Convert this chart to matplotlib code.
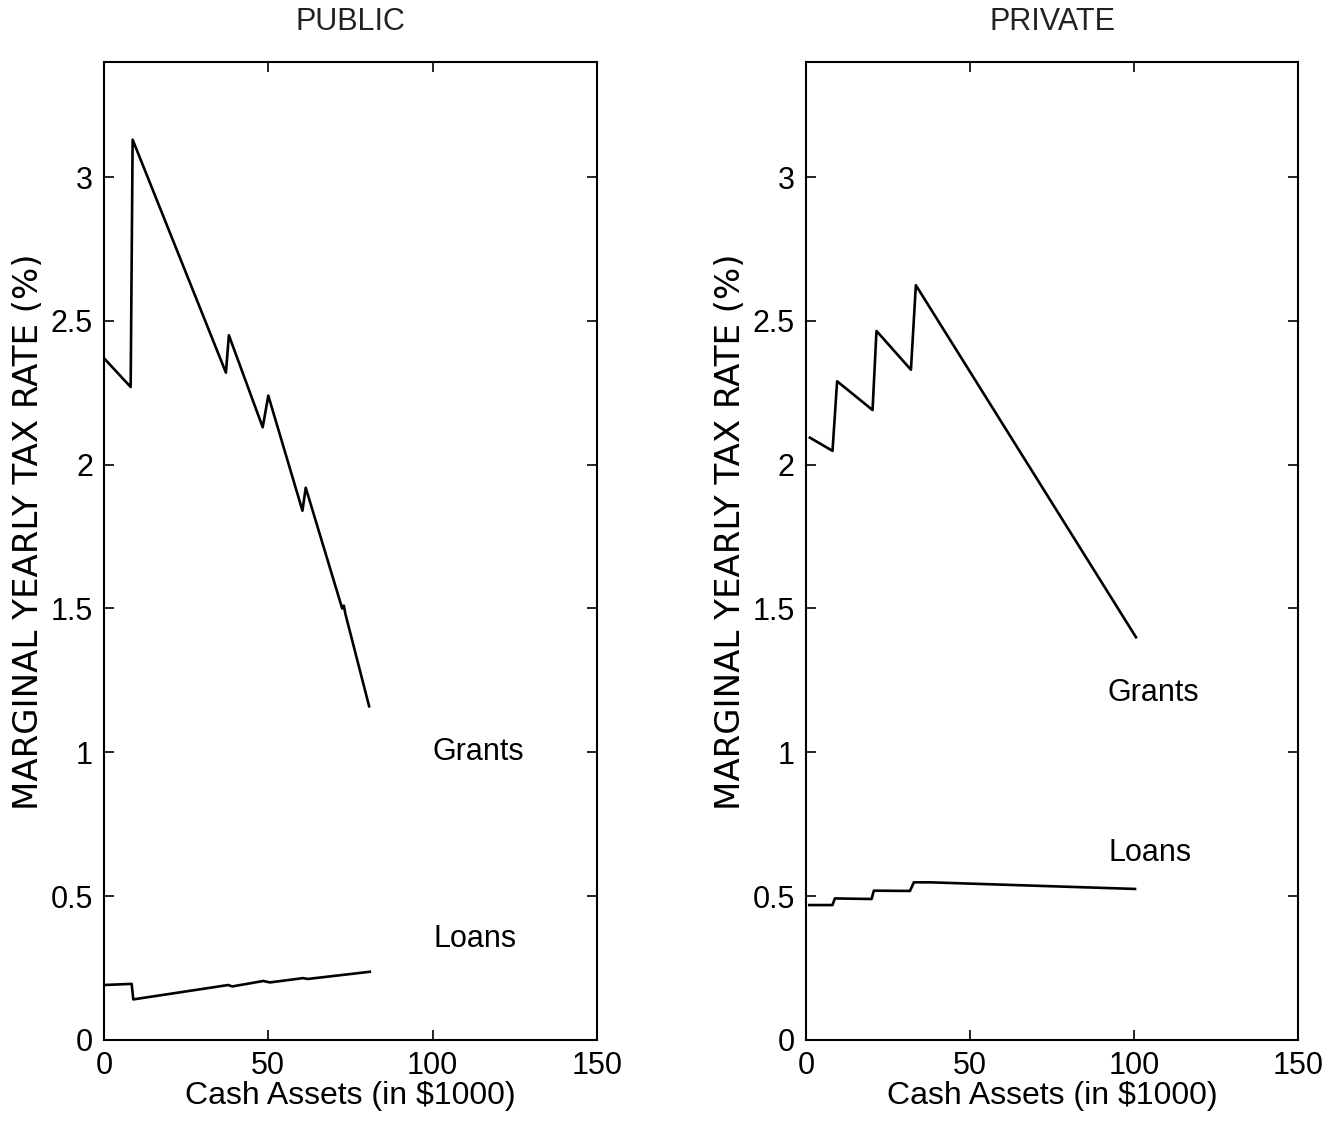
import numpy as np
import matplotlib
matplotlib.use("Agg")
import matplotlib.pyplot as plt

plt.rcParams['font.family'] = ['Liberation Sans', 'DejaVu Sans']

# PUBLIC panel
pub_grant_x = [0, 8.1, 8.7, 37.1, 38.0, 48.3, 50.0, 60.4, 61.4, 72.5, 73.0, 73.5, 80.7]
pub_grant_y = [2.37, 2.27, 3.13, 2.32, 2.45, 2.13, 2.24, 1.84, 1.92, 1.50, 1.51, 1.48, 1.16]
pub_loan_x = [0, 8.4, 8.9, 37.8, 39.0, 48.5, 50.5, 60.6, 62.0, 80.9]
pub_loan_y = [0.191, 0.195, 0.141, 0.191, 0.186, 0.205, 0.200, 0.215, 0.212, 0.237]

# PRIVATE panel
prv_grant_x = [1.2, 8.1, 9.5, 20.3, 21.5, 32.0, 33.5, 100.6]
prv_grant_y = [2.094, 2.048, 2.29, 2.19, 2.465, 2.33, 2.624, 1.40]
prv_loan_x = [1.0, 8.1, 8.8, 20.0, 20.7, 31.7, 32.9, 37.8, 100.3]
prv_loan_y = [0.469, 0.469, 0.492, 0.490, 0.519, 0.518, 0.548, 0.548, 0.525]

titles = ['PUBLIC', 'PRIVATE']
x_ticks = [0, 50, 100, 150]
y_ticks = [0, 0.5, 1, 1.5, 2, 2.5, 3]
y_tick_labels = ['0', '0.5', '1', '1.5', '2', '2.5', '3']

fig = plt.figure(figsize=(13.41, 11.25), dpi=100)
ax1 = fig.add_axes([0.0776, 0.0756, 0.3674, 0.8693])
ax2 = fig.add_axes([0.601, 0.0756, 0.367, 0.8693])

panels = [
    (ax1, pub_grant_x, pub_grant_y, pub_loan_x, pub_loan_y,
     (113.8, 1.0), (112.9, 0.35)),
    (ax2, prv_grant_x, prv_grant_y, prv_loan_x, prv_loan_y,
     (105.8, 1.206), (104.9, 0.65)),
]

for i, (ax, gx, gy, lx, ly, gpos, lpos) in enumerate(panels):
    ax.plot(gx, gy, color='black', lw=1.9)
    ax.plot(lx, ly, color='black', lw=1.9)
    ax.text(gpos[0], gpos[1], 'Grants', fontsize=22, ha='center', va='center')
    ax.text(lpos[0], lpos[1], 'Loans', fontsize=22, ha='center', va='center')
    ax.set_xlim(0, 150)
    ax.set_ylim(0, 3.4)
    ax.set_xticks(x_ticks)
    ax.set_yticks(y_ticks)
    ax.set_yticklabels(y_tick_labels)
    ax.tick_params(direction='in', top=True, right=True, length=7,
                   width=1.2, labelsize=22)
    ax.tick_params(axis='x', pad=8)
    ax.tick_params(axis='y', pad=8)
    for s in ax.spines.values():
        s.set_linewidth(1.5)
    ax.set_xlabel(r'Cash Assets (in \$1000)', fontsize=23, labelpad=0)
    ax.set_ylabel('MARGINAL YEARLY TAX RATE (%)', fontsize=24.5,
                  family='DejaVu Sans')
    ax.yaxis.set_label_coords(-0.12, 0.52)
    ax.set_title(titles[i], fontsize=22, pad=23, color='#222222')

fig.savefig('out.png', dpi=100)
